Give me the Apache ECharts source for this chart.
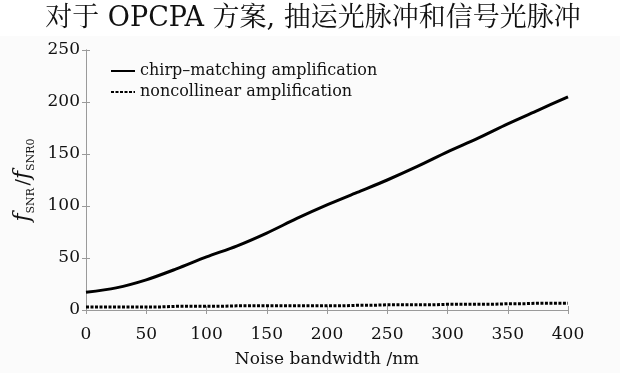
<!DOCTYPE html>
<html>
<head>
<meta charset="utf-8">
<script src="https://cdn.jsdelivr.net/npm/echarts@6/dist/echarts.min.js"></script>
<style>html,body{margin:0;padding:0;background:#fff}#c{width:620px;height:373px}</style>
</head>
<body>
<div id="c"></div>
<script>
const titleText = '对于 OPCPA 方案, 抽运光脉冲和信号光脉冲';
const xName = 'Noise bandwidth /nm';
const seriesNames = ['chirp\u2013matching amplification', 'noncollinear amplification'];
const xValues = [0, 25, 50, 75, 100, 125, 150, 175, 200, 225, 250, 275, 300, 325, 350, 375, 400];
const chirpValues = [17, 21.3, 29, 39.5, 51, 61.5, 74, 88, 101, 113, 125, 138, 152, 165, 179, 192, 205];
const noncolValues = [3, 3, 3, 3.5, 3.5, 4, 4, 4, 4, 4.5, 5, 5, 5.5, 5.5, 6, 6.5, 6.5];
const xTicks = [0, 50, 100, 150, 200, 250, 300, 350, 400];
const yTicks = [0, 50, 100, 150, 200, 250];

const serif = '"DejaVu Serif", "Noto Serif CJK SC", "Noto Sans CJK SC", serif';
const axisGray = '#9a9a9a';
const chart = echarts.init(document.getElementById('c'), null, {renderer: 'canvas'});
const pairs = (ys) => xValues.map((x, i) => [x, ys[i]]);

const hiddenLabels = {show: false};
chart.setOption({
  backgroundColor: '#fbfbfb',
  animation: false,
  graphic: [
    {type: 'rect', shape: {x: 0, y: 0, width: 620, height: 36}, style: {fill: '#ffffff'}, z: -10, silent: true},
    {type: 'text', x: 313, y: 19, style: {text: titleText, font: '27px ' + serif, fill: '#111', align: 'center', verticalAlign: 'middle'}}
  ],
  grid: {left: 86, right: 52, top: 50, bottom: 54.5, containLabel: false},
  legend: {
    left: 105, top: 58, orient: 'vertical', itemWidth: 24, itemHeight: 10, itemGap: 5,
    itemStyle: {opacity: 0},
    textStyle: {fontFamily: serif, fontSize: 16, color: '#111'},
    data: seriesNames
  },
  xAxis: [
    {
      type: 'value', min: 0, max: 400, interval: 50, position: 'bottom',
      name: xName, nameLocation: 'middle', nameGap: 41,
      nameTextStyle: {fontFamily: serif, fontSize: 17, color: '#111'},
      axisLine: {show: true, lineStyle: {color: axisGray, width: 1}},
      axisTick: {show: true, inside: true, length: 4, lineStyle: {color: axisGray}},
      axisLabel: {fontFamily: serif, fontSize: 17, color: '#111', margin: 16,
        formatter: v => xTicks.includes(v) ? String(v) : ''},
      splitLine: {show: false}
    },
    {
      type: 'value', min: 0, max: 400, interval: 50, position: 'top',
      axisLine: {show: true, lineStyle: {color: axisGray, width: 1}},
      axisTick: {show: true, inside: true, length: 4, lineStyle: {color: axisGray}},
      axisLabel: hiddenLabels, splitLine: {show: false}
    }
  ],
  yAxis: [
    {
      type: 'value', min: 0, max: 250, interval: 50, position: 'left',
      name: '{f|f}{s|SNR}{sp| }{n|/}{f|f}{s|SNR0}', nameLocation: 'middle', nameGap: 47, nameRotate: 90,
      nameTextStyle: {
        rich: {
          f: {fontFamily: serif, fontStyle: 'italic', fontSize: 22, color: '#111', lineHeight: 26, verticalAlign: 'middle'},
          s: {fontFamily: serif, fontSize: 11, color: '#111', lineHeight: 26, verticalAlign: 'bottom'},
          sp: {fontFamily: serif, fontSize: 8, lineHeight: 26},
          n: {fontFamily: serif, fontSize: 19, color: '#111', lineHeight: 26, verticalAlign: 'middle'}
        }
      },
      axisLine: {show: true, lineStyle: {color: axisGray, width: 1}},
      axisTick: {show: true, inside: true, length: 4, lineStyle: {color: axisGray}},
      axisLabel: {fontFamily: serif, fontSize: 17, color: '#111', margin: 6,
        formatter: v => yTicks.includes(v) ? String(v) : ''},
      splitLine: {show: false}
    },
    {
      type: 'value', min: 0, max: 250, interval: 50, position: 'right',
      axisLine: {show: true, lineStyle: {color: axisGray, width: 1}},
      axisTick: {show: true, inside: true, length: 4, lineStyle: {color: axisGray}},
      axisLabel: hiddenLabels, splitLine: {show: false}
    }
  ],
  series: [
    {
      name: seriesNames[0], type: 'line', data: pairs(chirpValues), symbol: 'none', smooth: 0.3,
      lineStyle: {color: '#000', width: 3}, itemStyle: {color: '#000'}
    },
    {
      name: seriesNames[1], type: 'line', data: pairs(noncolValues), symbol: 'none', step: 'middle',
      lineStyle: {color: '#000', width: 3, type: [3, 1.5]}, itemStyle: {color: '#000'}
    }
  ]
});
</script>
</body>
</html>
